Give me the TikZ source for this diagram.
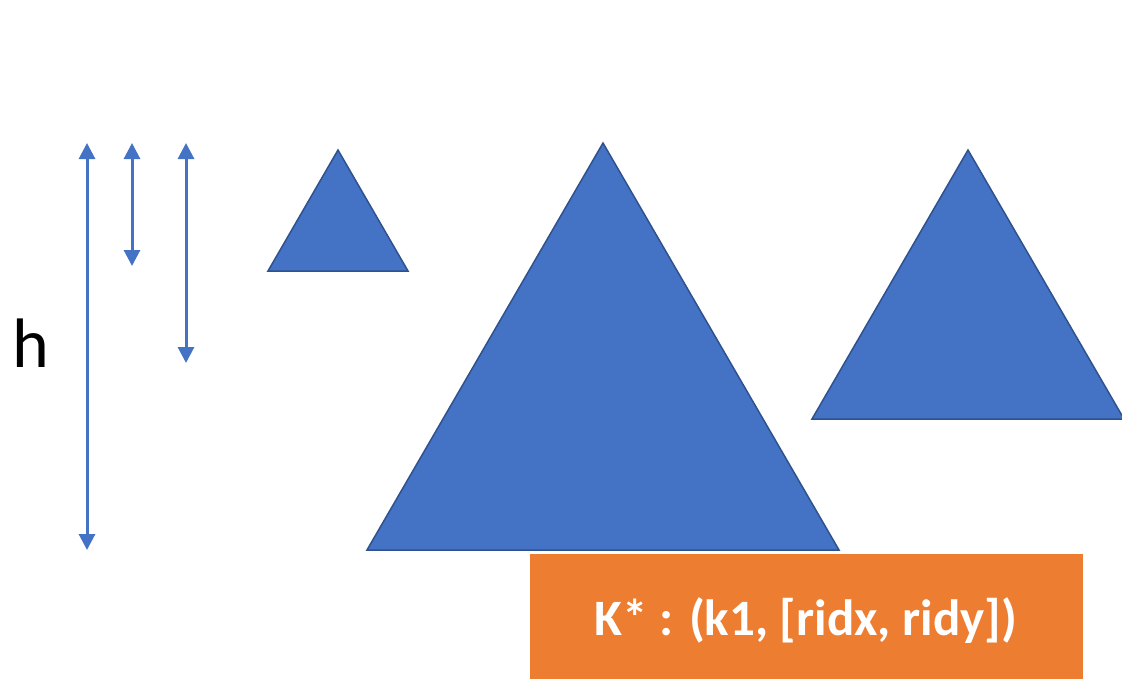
\documentclass[tikz,border=0pt]{standalone}
\usepackage{fontspec}
\setmainfont{Carlito}
\usetikzlibrary{arrows.meta}
\definecolor{oblue}{HTML}{4472C4}
\definecolor{oblueline}{HTML}{2F528F}
\definecolor{oorange}{HTML}{ED7D31}
\tikzset{
  tri/.style={fill=oblue,draw=oblueline,line width=1.5pt,line join=miter},
  dimarrow/.style={draw=oblue,line width=3pt,{Triangle[width=16pt,length=16pt]}-{Triangle[width=16pt,length=16pt]}},
  keybox/.style={fill=oorange,draw=white,line width=3pt,minimum width=556pt,minimum height=128pt,inner sep=0pt},
  keytext/.style={text=white,font=\fontsize{51}{60}\selectfont\bfseries,anchor=base,inner sep=0pt},
  hlabel/.style={font=\fontsize{70}{80}\selectfont,text=black}
}
\begin{document}
\begin{tikzpicture}[x=1pt,y=-1pt]
\useasboundingbox (0,0) rectangle (1122,678);
\begin{scope}
\clip (0,0) rectangle (1122,678);
% triangles
\draw[tri] (338,150) -- (408,271) -- (268,271) -- cycle;
\draw[tri] (603,143) -- (839,550) -- (367,550) -- cycle;
\draw[tri] (968,150) -- (1124,419) -- (812,419) -- cycle;
% dimension arrows
\coordinate (a1t) at (87,143);
\coordinate (a1b) at (87,550);
\coordinate (a2t) at (132,143);
\coordinate (a2b) at (132,266);
\coordinate (a3t) at (186,143);
\coordinate (a3b) at (186,363);
\draw[dimarrow] (a1t) -- (a1b);
\draw[dimarrow] (a2t) -- (a2b);
\draw[dimarrow] (a3t) -- (a3b);
\node[hlabel] (h) at (31,343) {h};
% key box
\node[keybox] (box) at (806,616) {};
\node[keytext] (keylabel) at (806,635) {K* : (k1, [ridx, ridy])};
\end{scope}
\end{tikzpicture}
\end{document}
